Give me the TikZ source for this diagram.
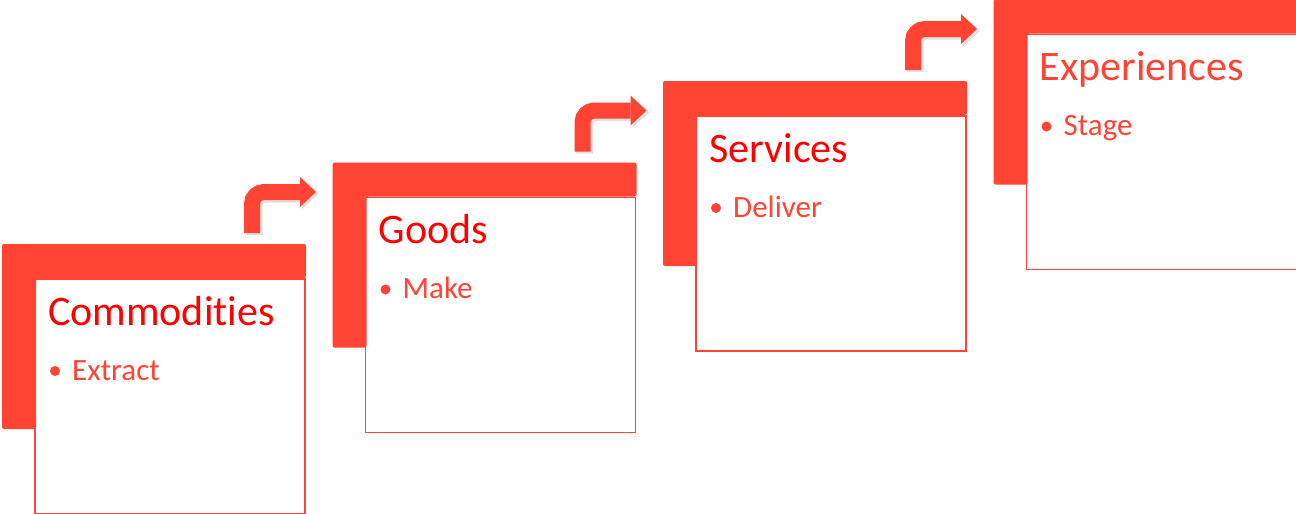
\documentclass[tikz,border=0pt]{standalone}
\usepackage{fontspec}
\setmainfont[Ligatures=NoCommon]{Carlito}
\definecolor{coral}{RGB}{255,68,51}
\definecolor{tred}{RGB}{255,0,0}
\begin{document}
\begin{tikzpicture}[x=1pt,y=-1pt,
  boxnode/.style={draw=coral, line width=1.8pt, fill=white, inner sep=0pt,
    minimum width=270pt, minimum height=235pt, anchor=north west},
  titletext/.style={inner sep=0pt, anchor=base west, font=\fontsize{42}{50}\selectfont},
  itemtext/.style={inner sep=0pt, anchor=base west, text=coral, font=\fontsize{31}{37}\selectfont},
  arrowline/.style={draw=coral, line width=16pt, rounded corners=12pt},
  shadowline/.style={draw=black, opacity=0.12, line width=17pt, rounded corners=12pt}]
\useasboundingbox (0,0) rectangle (1296,514);
\foreach \ox/\oy/\n/\ttl/\itm/\clr/\arr in {
  2/244/a/Commodities/Extract/tred/1,
  332.5/162.5/b/Goods/Make/tred/1,
  663/81/c/Services/Deliver/tred/1,
  993.5/-0.5/d/Experiences/Stage/coral/0}{
  \begin{scope}[shift={(\ox,\oy)}]
    \node[boxnode] (box\n) at (32,34) {};
    \fill[coral, rounded corners=2pt] (0,0) -- (304,0) -- (304,34) -- (34,34) -- (34,185) -- (0,185) -- cycle;
    \node[titletext, text=\clr] (title\n) at (46,81) {\ttl};
    \fill[coral] (53,127) circle (5);
    \node[itemtext] (item\n) at (70,136) {\itm};
    \ifnum\arr=1
      \coordinate (s\n) at (250,-11);
      \coordinate (h\n) at (298,-52);
      \draw[shadowline] ([shift={(2,2)}]s\n) |- ([shift={(2,2)}]h\n);
      \fill[black, opacity=0.12] (300,-65) -- (317,-50) -- (300,-35) -- cycle;
      \draw[arrowline] (s\n) |- (h\n);
      \fill[coral] (298,-67) -- (314,-52) -- (298,-37) -- cycle;
    \fi
  \end{scope}
}
\end{tikzpicture}
\end{document}
